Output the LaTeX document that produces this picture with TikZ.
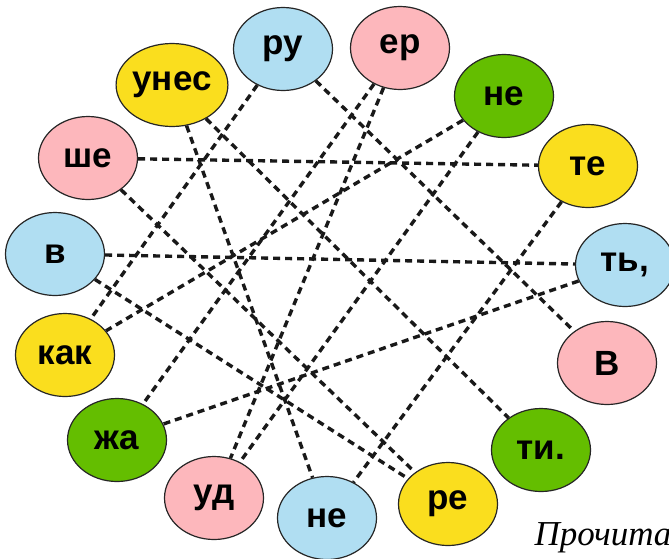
\documentclass[tikz,border=0pt]{standalone}
\usepackage{fontspec}
\setmainfont{Liberation Sans}
\newfontfamily\handfont{Liberation Serif}
\usetikzlibrary{shapes.geometric}
\definecolor{sylblue}{RGB}{176,222,242}
\definecolor{sylpink}{RGB}{253,183,188}
\definecolor{sylyellow}{RGB}{250,222,30}
\definecolor{sylgreen}{RGB}{100,190,0}
\tikzset{
	x=0.5pt, y=-0.5pt,
	syl/.style = {ellipse, solid, draw=black!85, line width=0.6pt, minimum width=49.5pt,
		minimum height=41.5pt, inner sep=0pt, font=\bfseries\fontsize{17.5}{17.5}\selectfont},
	blu/.style = {syl, fill=sylblue},
	pnk/.style = {syl, fill=sylpink},
	yel/.style = {syl, fill=sylyellow},
	grn/.style = {syl, fill=sylgreen},
	link/.style = {line width=1.7pt, draw=black!90, dash pattern=on 3.5pt off 2.5pt}
}
\begin{document}
\begin{tikzpicture}[link]
	\useasboundingbox (0,0) rectangle (669,558);
	\node[blu] (ru) at (283,49) {ру};
	\node[pnk] (er) at (400,48) {ер};
	\node[yel] (unes) at (172,85) {унес};
	\node[grn] (negrn) at (504,96) {не};
	\node[pnk] (she) at (88,158) {ше};
	\node[yel] (te) at (588,166) {те};
	\node[blu] (v) at (55,254) {в};
	\node[blu] (tj) at (625,265) {ть,};
	\node[yel] (kah) at (65,355) {как};
	\node[pnk] (bigv) at (607,363) {В};
	\node[grn] (zha) at (117,440) {жа};
	\node[grn] (ti) at (541,450) {ти.};
	\node[pnk] (ud) at (214,498) {уд};
	\node[blu] (neblu) at (327,518) {не};
	\node[yel] (re) at (448,504) {ре};
	\node[anchor=base west, inner sep=0pt, font=\handfont\itshape\fontsize{17.5}{17.5}\selectfont] (read) at (533,545) {Прочитай};
	\draw (she) -- (te);
	\draw (v) -- (tj);
	\draw (ru) -- (bigv);
	\draw (unes) -- (neblu);
	\draw (unes) -- (ti);
	\draw (she) -- (re);
	\draw (v) -- (re);
	\draw (ru) -- (kah);
	\draw (er) -- (zha);
	\draw (er) -- (ud);
	\draw (negrn) -- (kah);
	\draw (negrn) -- (ud);
	\draw (te) -- (neblu);
	\draw (tj) -- (zha);
\end{tikzpicture}
\end{document}
